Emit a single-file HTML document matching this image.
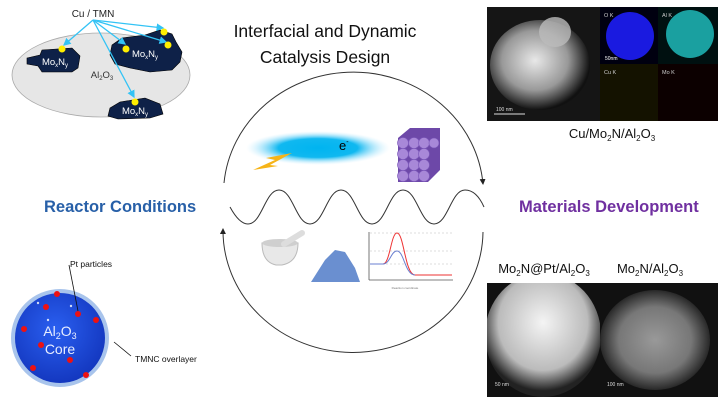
<!DOCTYPE html>
<html><head><meta charset="utf-8"><style>
body{margin:0;width:720px;height:405px;background:#fff;overflow:hidden;position:relative;font-family:"Liberation Sans",sans-serif}
</style></head><body>
<svg width="720" height="405" style="position:absolute;left:0;top:0" font-family="Liberation Sans, sans-serif">
<defs>
<radialGradient id="glow" cx="50%" cy="50%" r="50%"><stop offset="0" stop-color="#00b4f0"/><stop offset="0.55" stop-color="#10b8f0"/><stop offset="1" stop-color="#bfeaff" stop-opacity="0"/></radialGradient>
<radialGradient id="sph" cx="45%" cy="40%" r="60%"><stop offset="0" stop-color="#2a5ff0"/><stop offset="1" stop-color="#1438c0"/></radialGradient>
<radialGradient id="sem1" cx="45%" cy="45%" r="55%"><stop offset="0" stop-color="#e8e8e8"/><stop offset="0.6" stop-color="#999"/><stop offset="1" stop-color="#111"/></radialGradient>
<radialGradient id="sem2" cx="50%" cy="40%" r="55%"><stop offset="0" stop-color="#f4f4f4"/><stop offset="0.7" stop-color="#bbb"/><stop offset="1" stop-color="#222"/></radialGradient>
<radialGradient id="sem3" cx="50%" cy="50%" r="55%"><stop offset="0" stop-color="#999"/><stop offset="0.6" stop-color="#777"/><stop offset="1" stop-color="#111"/></radialGradient>
<clipPath id="c1"><rect x="487" y="7" width="113" height="114"/></clipPath>
<clipPath id="c2"><rect x="487" y="283" width="113" height="114"/></clipPath>
<clipPath id="c3"><rect x="600" y="283" width="118" height="114"/></clipPath>
<clipPath id="c4"><rect x="600" y="7" width="58" height="57"/></clipPath>
<clipPath id="c5"><rect x="658" y="7" width="60" height="57"/></clipPath>
<marker id="ab" markerWidth="6" markerHeight="6" refX="5" refY="3" orient="auto"><path d="M0,0 L6,3 L0,6 z" fill="#33c3f5"/></marker>
<marker id="ak" markerWidth="6" markerHeight="6" refX="5" refY="3" orient="auto"><path d="M0,0 L6,3 L0,6 z" fill="#222"/></marker>
</defs>
<ellipse cx="101" cy="75" rx="89" ry="42" fill="#e6e6e6" stroke="#aaa" stroke-width="0.8"/>
<path d="M27,58 L40,55 L42,50 L72,48 L80,56 L78,68 L72,72 L42,72 L38,66 L27,64 z" fill="#0e2148" stroke="#000" stroke-width="0.6"/>
<path d="M112,45 L122,38 L145,35 L160,30 L172,34 L176,42 L182,52 L180,62 L172,70 L150,72 L130,68 L115,64 L110,55 z" fill="#0e2148" stroke="#000" stroke-width="0.6"/>
<path d="M110,108 L120,102 L145,98 L160,104 L163,114 L150,118 L118,119 L108,116 z" fill="#0e2148" stroke="#000" stroke-width="0.6"/>
<g stroke="#33c3f5" stroke-width="1.3" fill="none">
<line x1="93" y1="20" x2="64" y2="45" marker-end="url(#ab)"/>
<line x1="93" y1="20" x2="125" y2="44" marker-end="url(#ab)"/>
<line x1="93" y1="20" x2="163" y2="28" marker-end="url(#ab)"/>
<line x1="93" y1="20" x2="166" y2="42" marker-end="url(#ab)"/>
<line x1="93" y1="20" x2="134" y2="97" marker-end="url(#ab)"/>
</g>
<g fill="#ffee00"><circle cx="62" cy="49" r="3.5"/><circle cx="126" cy="49" r="3.5"/><circle cx="164" cy="32" r="3.5"/><circle cx="168" cy="45" r="3.5"/><circle cx="135" cy="102" r="3.5"/></g>
<text x="93" y="17" font-size="10" text-anchor="middle" fill="#222">Cu / TMN</text>
<text x="55" y="65" font-size="9.5" text-anchor="middle" fill="#fff">Mo<tspan font-size="6" dy="2">x</tspan><tspan dy="-2">N</tspan><tspan font-size="6" dy="2">y</tspan></text>
<text x="145" y="57" font-size="9.5" text-anchor="middle" fill="#fff">Mo<tspan font-size="6" dy="2">x</tspan><tspan dy="-2">N</tspan><tspan font-size="6" dy="2">y</tspan></text>
<text x="135" y="114" font-size="9.5" text-anchor="middle" fill="#fff">Mo<tspan font-size="6" dy="2">x</tspan><tspan dy="-2">N</tspan><tspan font-size="6" dy="2">y</tspan></text>
<text x="102" y="78" font-size="9.5" text-anchor="middle" fill="#333">Al<tspan font-size="6" dy="2">2</tspan><tspan dy="-2">O</tspan><tspan font-size="6" dy="2">3</tspan></text>
<text x="325" y="37" font-size="17.5" text-anchor="middle" fill="#111">Interfacial and Dynamic</text>
<text x="325" y="63" font-size="17.5" text-anchor="middle" fill="#111">Catalysis Design</text>
<path d="M224,183 A130,122 0 0 1 483,184" fill="none" stroke="#333" stroke-width="1" marker-end="url(#ak)"/>
<path d="M483,232 A130,122 0 0 1 223,229" fill="none" stroke="#333" stroke-width="1" marker-end="url(#ak)"/>
<path d="M230,207 C236,218 242,224 248,224 C262,224 265,190 279,190 C293,190 296,224 310,224 C324,224 327,190 341,190 C355,190 358,224 372,224 C386,224 389,190 403,190 C417,190 420,224 434,224 C448,224 451,190 465,190 C474,190 480,198 484,207" fill="none" stroke="#333" stroke-width="1"/>
<ellipse cx="318" cy="148" rx="72" ry="17" fill="url(#glow)"/>
<text x="339" y="150" font-size="13" fill="#000">e<tspan font-size="7" dy="-6">-</tspan></text>
<path d="M253,170 L275,160 L266,158 L292,153 L270,165 L278,166 Z" fill="#f6b418"/>
<path d="M398,138 L410,128 L440,128 L440,170 L428,182 L398,182 Z" fill="#6d48a8"/>
<g fill="#a888d8" stroke="#7a56b8" stroke-width="0.6">
<circle cx="403" cy="143" r="5.5"/><circle cx="414" cy="143" r="5.5"/><circle cx="424" cy="143" r="5.5"/><circle cx="434" cy="143" r="5"/>
<circle cx="403" cy="154" r="5.5"/><circle cx="414" cy="154" r="5.5"/><circle cx="424" cy="154" r="5.5"/>
<circle cx="403" cy="165" r="5.5"/><circle cx="414" cy="165" r="5.5"/><circle cx="424" cy="165" r="5.5"/>
<circle cx="403" cy="176" r="5.5"/><circle cx="414" cy="176" r="5.5"/><circle cx="424" cy="176" r="5.5"/>
</g>
<path d="M262,243 L298,243 Q298,262 282,265 L276,265 Q262,262 262,243 Z" fill="#e8e8e8" stroke="#bbb"/>
<ellipse cx="280" cy="243" rx="18" ry="4" fill="#cfcfcf"/>
<line x1="284" y1="244" x2="302" y2="233" stroke="#ddd" stroke-width="6" stroke-linecap="round"/>
<path d="M311,282 L325,260 L335,250 L345,252 L355,268 L360,282 Z" fill="#6a8fd0"/>
<g stroke="#555" stroke-width="0.8" fill="none"><line x1="369" y1="232" x2="369" y2="280"/><line x1="369" y1="280" x2="453" y2="280"/></g>
<g stroke="#bbb" stroke-width="0.6" stroke-dasharray="2,2"><line x1="370" y1="233" x2="452" y2="233"/><line x1="370" y1="251" x2="452" y2="251"/><line x1="370" y1="264" x2="452" y2="264"/></g>
<path d="M370,264 L383,264 C390,264 391,233 397,233 C404,233 405,275 415,275 L452,275" fill="none" stroke="#e33" stroke-width="1"/>
<path d="M370,264 L383,264 C390,264 391,251 397,251 C404,251 405,275 415,275" fill="none" stroke="#6a7fd0" stroke-width="1"/>
<text x="405" y="289" font-size="3" text-anchor="middle" fill="#777">Reaction coordinate</text>
<text x="44" y="212" font-size="16.5" font-weight="bold" fill="#2860a8">Reactor Conditions</text>
<text x="519" y="212" font-size="16.5" font-weight="bold" fill="#7030a0">Materials Development</text>
<rect x="487" y="7" width="113" height="114" fill="#151515"/>
<g clip-path="url(#c1)"><ellipse cx="540" cy="65" rx="50" ry="45" fill="url(#sem1)"/><ellipse cx="555" cy="32" rx="16" ry="15" fill="#bbb" opacity="0.8"/></g>
<line x1="494" y1="114" x2="525" y2="114" stroke="#ddd"/>
<text x="496" y="111" font-size="5" fill="#ddd">100 nm</text>
<rect x="600" y="7" width="58" height="57" fill="#000010"/>
<g clip-path="url(#c4)"><ellipse cx="630" cy="36" rx="24" ry="24" fill="#1a1ae0"/></g>
<rect x="658" y="7" width="60" height="57" fill="#001010"/>
<g clip-path="url(#c5)"><ellipse cx="690" cy="34" rx="24" ry="24" fill="#1aa0a0"/></g>
<rect x="600" y="64" width="58" height="57" fill="#141200"/>
<rect x="658" y="64" width="60" height="57" fill="#0c0000"/>
<text x="604" y="17" font-size="5.5" fill="#ccc">O K</text>
<text x="662" y="17" font-size="5.5" fill="#ccc">Al K</text>
<text x="604" y="74" font-size="5.5" fill="#ccc">Cu K</text>
<text x="662" y="74" font-size="5.5" fill="#ccc">Mo K</text>
<text x="605" y="60" font-size="5" fill="#fff">50nm</text>
<text x="612" y="138" font-size="13" text-anchor="middle" fill="#111">Cu/Mo<tspan font-size="8" dy="3">2</tspan><tspan dy="-3">N/Al</tspan><tspan font-size="8" dy="3">2</tspan><tspan dy="-3">O</tspan><tspan font-size="8" dy="3">3</tspan></text>
<text x="544" y="273" font-size="13" text-anchor="middle" fill="#111">Mo<tspan font-size="8" dy="3">2</tspan><tspan dy="-3">N@Pt/Al</tspan><tspan font-size="8" dy="3">2</tspan><tspan dy="-3">O</tspan><tspan font-size="8" dy="3">3</tspan></text>
<text x="650" y="273" font-size="13" text-anchor="middle" fill="#111">Mo<tspan font-size="8" dy="3">2</tspan><tspan dy="-3">N/Al</tspan><tspan font-size="8" dy="3">2</tspan><tspan dy="-3">O</tspan><tspan font-size="8" dy="3">3</tspan></text>
<rect x="487" y="283" width="113" height="114" fill="#111"/>
<g clip-path="url(#c2)"><ellipse cx="543" cy="335" rx="58" ry="62" fill="url(#sem2)"/></g>
<rect x="600" y="283" width="118" height="114" fill="#111"/>
<g clip-path="url(#c3)"><ellipse cx="655" cy="340" rx="55" ry="50" fill="url(#sem3)"/></g>
<text x="495" y="386" font-size="5" fill="#ddd">50 nm</text>
<text x="607" y="386" font-size="5" fill="#ddd">100 nm</text>
<circle cx="60" cy="338" r="49" fill="#a8c4ec"/>
<circle cx="60" cy="338" r="45" fill="url(#sph)"/>
<g fill="#e11"><circle cx="57" cy="294" r="3"/><circle cx="46" cy="307" r="3"/><circle cx="78" cy="314" r="3"/><circle cx="96" cy="320" r="3"/><circle cx="24" cy="329" r="3"/><circle cx="41" cy="345" r="3"/><circle cx="70" cy="360" r="3"/><circle cx="33" cy="368" r="3"/><circle cx="86" cy="375" r="3"/></g>
<g fill="#fff" opacity="0.8"><circle cx="38" cy="303" r="1.2"/><circle cx="71" cy="306" r="1.2"/><circle cx="48" cy="320" r="1.2"/></g>
<text x="60" y="336" font-size="14" text-anchor="middle" fill="#e8eeff">Al<tspan font-size="9" dy="3">2</tspan><tspan dy="-3">O</tspan><tspan font-size="9" dy="3">3</tspan></text>
<text x="60" y="354" font-size="14" text-anchor="middle" fill="#e8eeff">Core</text>
<line x1="69" y1="265" x2="78" y2="311" stroke="#111" stroke-width="0.8"/>
<line x1="114" y1="342" x2="131" y2="356" stroke="#111" stroke-width="0.8"/>
<text x="70" y="267" font-size="8.5" fill="#111">Pt particles</text>
<text x="135" y="362" font-size="8.5" fill="#111">TMNC overlayer</text>
</svg>
</body></html>
